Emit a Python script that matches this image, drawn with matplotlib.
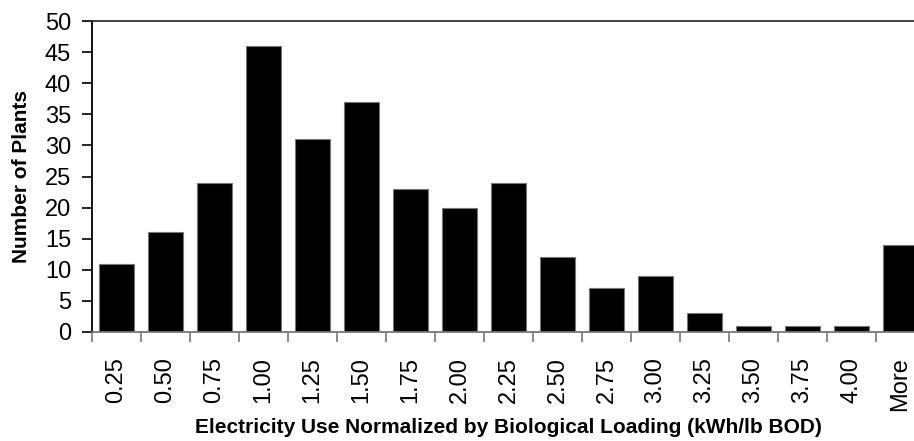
import matplotlib.pyplot as plt
import numpy as np

plt.rcParams["font.family"] = ["Liberation Sans", "DejaVu Sans"]

bins = ["0.25", "0.50", "0.75", "1.00", "1.25", "1.50", "1.75", "2.00",
        "2.25", "2.50", "2.75", "3.00", "3.25", "3.50", "3.75", "4.00", "More"]
counts = [11, 16, 24, 46, 31, 37, 23, 20, 24, 12, 7, 9, 3, 1, 1, 1, 14]

fig = plt.figure(figsize=(9.14, 4.41), dpi=100)
# axes runs slightly past the right edge of the figure
ax = fig.add_axes([92 / 914, 109 / 441, 833 / 914, 311 / 441])

x = np.arange(len(bins))
ax.bar(x, counts, width=0.7, color="black", edgecolor="#777777", linewidth=0.8)

ax.set_xlim(-0.5, len(bins) - 0.5)
ax.set_ylim(0, 50)
ax.set_yticks(np.arange(0, 51, 5))

# labels sit under the bars, tick marks between them
ax.set_xticks(x)
ax.set_xticklabels(bins, rotation=90, fontsize=17)
ax.set_xticks(np.arange(-0.5, len(bins), 1.0), minor=True)
ax.tick_params(axis="x", which="major", length=0, pad=18)
ax.tick_params(axis="x", which="minor", length=7, width=1.2, color="#777777")
ax.tick_params(axis="y", length=7, width=1.2, labelsize=17, pad=8)

for side in ["left", "bottom", "top", "right"]:
    ax.spines[side].set_linewidth(1.3)
ax.spines["bottom"].set_color("#777777")
ax.spines["top"].set_color("#333333")

ax.set_xlabel("Electricity Use Normalized by Biological Loading (kWh/lb BOD)",
              fontsize=15, fontweight="bold")
ax.set_ylabel("Number of Plants", fontsize=15, fontweight="bold")
ax.xaxis.set_label_coords(0.5, -0.275)
ax.yaxis.set_label_coords(-0.073, 0.5)

fig.savefig("out.png", dpi=100)
